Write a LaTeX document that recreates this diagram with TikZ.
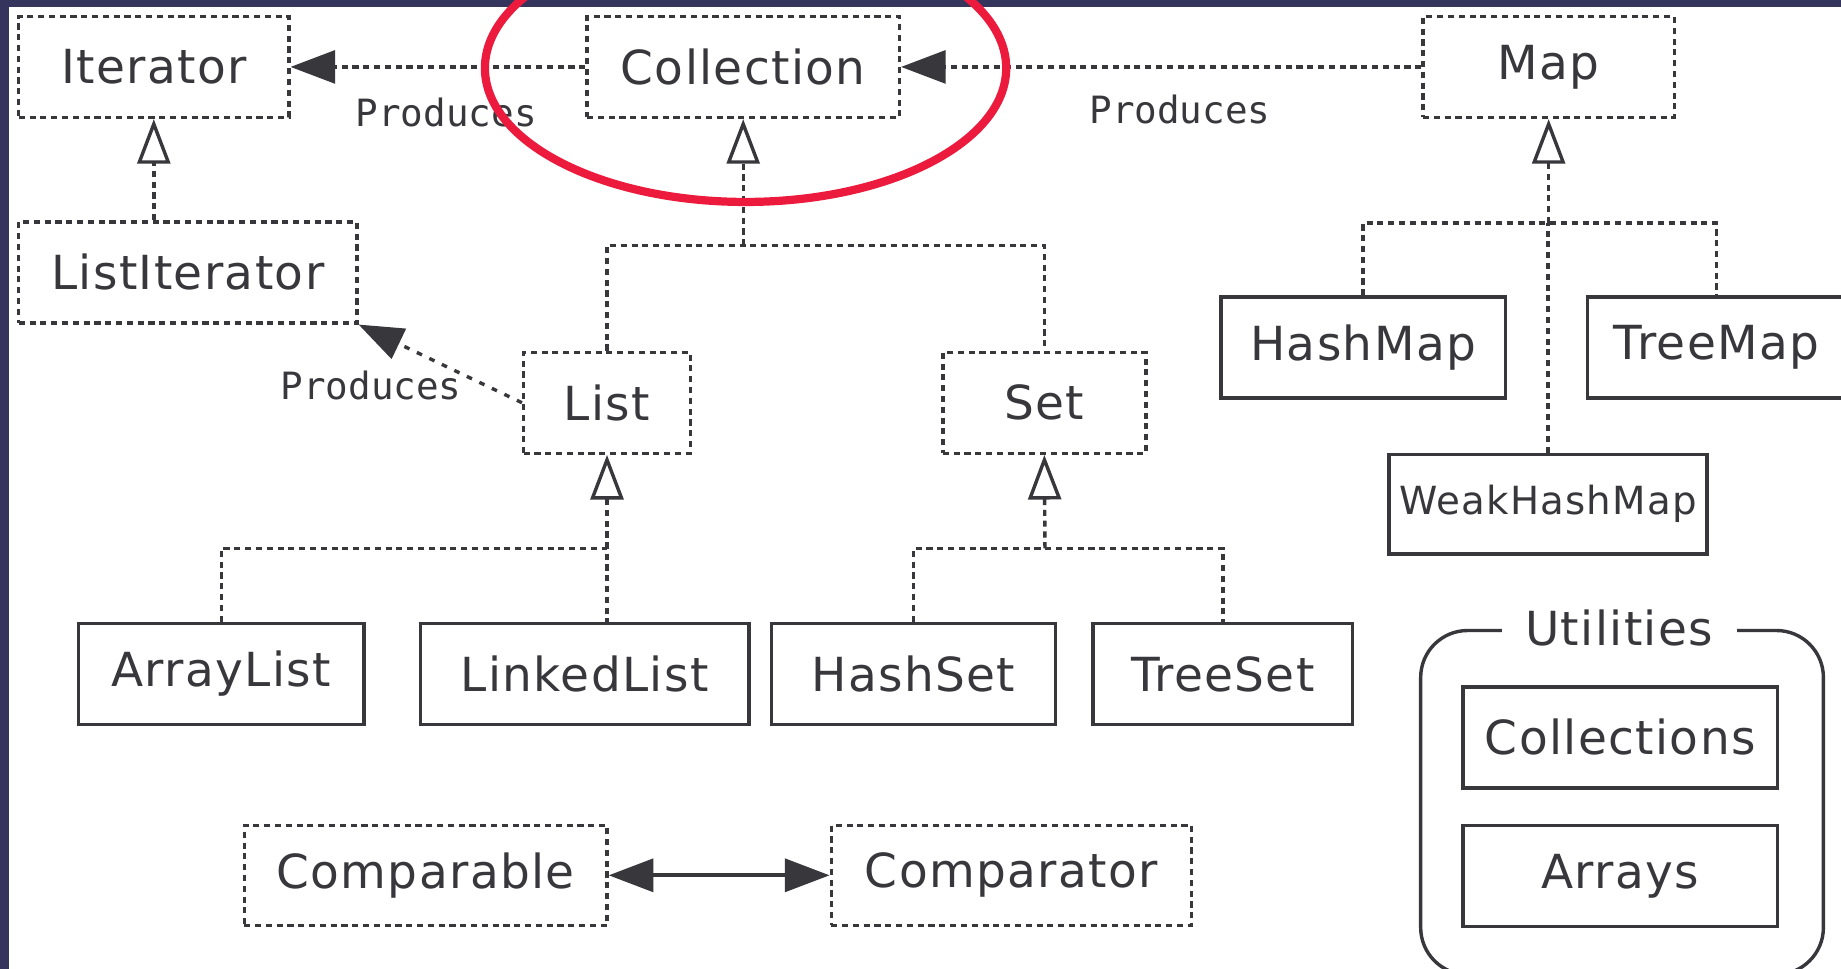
\documentclass[tikz,border=0pt]{standalone}
\usepackage{fontspec}
\setmainfont{DejaVu Sans}[LetterSpace=3]
\newfontfamily\prodfont{DejaVu Sans Mono}
\usetikzlibrary{arrows.meta}
\definecolor{ink}{RGB}{55,55,60}
\definecolor{navy}{RGB}{53,52,92}
\definecolor{circ}{RGB}{236,27,61}
\begin{document}
\begin{tikzpicture}[x=0.5pt,y=-0.5pt,
  every node/.style={text=ink, font=\fontsize{20}{24}\selectfont},
  box/.style={draw=ink, line width=1.45pt, inner sep=0pt, minimum height=43pt, fill=white},
  dbox/.style={box, dash pattern=on 2.6pt off 2pt},
  con/.style={draw=ink, line width=1.45pt, dash pattern=on 2.6pt off 2pt},
  prod/.style={con, -{Triangle[length=19pt,width=14pt]}},
  inh/.style={con, -{Triangle[open,length=19pt,width=14pt,fill=white]}},
  lbl/.style={font=\prodfont\fontsize{16}{18}\selectfont, inner sep=0pt},
]
\useasboundingbox (0,0) rectangle (1568,825);
\clip (0,0) rectangle (1568,825);
\fill[white] (0,0) rectangle (1568,825);
\fill[navy] (0,0) rectangle (1568,6);
\fill[navy] (0,0) rectangle (8,825);

% interfaces
\node[dbox, minimum width=115pt] (iter) at (131,57) {Iterator};
\node[dbox, minimum width=133pt] (coll) at (633,57) {Collection};
\node[dbox, minimum width=107pt] (map) at (1319,57) {Map};
\node[dbox, minimum width=144pt] (listit) at (160,232) {ListIterator};
\node[dbox, minimum width=71pt] (list) at (517,343) {List};
\node[dbox, minimum width=86.5pt] (set) at (889.5,343) {Set};

% map implementations
\node[box, minimum width=121pt] (hashmap) at (1161,296) {HashMap};
\node[box, minimum width=110pt] (treemap) at (1462,296) {TreeMap};
\node[box, minimum width=135.5pt, minimum height=42.5pt, font=\fontsize{16.5}{20}\selectfont] (weak) at (1318.5,429.5) {WeakHashMap};

% collection implementations
\node[box, minimum width=121.5pt] (arraylist) at (188.5,574) {ArrayList};
\node[box, minimum width=140pt] (linkedlist) at (498,574) {LinkedList};
\node[box, minimum width=121pt] (hashset) at (778,574) {HashSet};
\node[box, minimum width=110.5pt] (treeset) at (1041.5,574) {TreeSet};

% comparison
\node[dbox, minimum width=154.5pt, minimum height=42.5pt] (comparable) at (362.5,745.5) {Comparable};
\node[dbox, minimum width=153.5pt, minimum height=42.5pt] (comparator) at (861.5,745.5) {Comparator};

% utilities
\draw[ink, line width=1.45pt, rounded corners=20pt] (1210,537) rectangle (1553,830);
\node[fill=white, inner xsep=10pt, inner ysep=2pt] (util) at (1379,535) {Utilities};
\node[box, minimum width=134pt] (collections) at (1380,628) {Collections};
\node[box, minimum width=134pt] (arrays) at (1380,746) {Arrays};

% produces
\draw[prod] (coll.west) -- (iter.east);
\draw[prod] (map.west) -- (coll.east);
\draw[prod, dash pattern=on 2.4pt off 3.5pt] (list.west) -- (listit.south east);
\node[lbl] (p1) at (380,96) {Produces};
\node[lbl] (p2) at (1005,93) {Produces};
\node[lbl] (p3) at (316,328) {Produces};

% inheritance
\draw[inh] (listit.north -| iter.south) -- (iter.south);

\coordinate (cj) at (633,209);
\draw[con] (list.north) |- (cj) -| (set.north);
\draw[inh] (cj) -- (coll.south);

\coordinate (mj) at (1319,190);
\draw[con] (hashmap.north) |- (mj) -| (treemap.north);
\draw[con] (weak.north) -- (weak.north |- mj);
\draw[inh] (mj) -- (map.south);

\coordinate (lj) at (517,467);
\draw[con] (arraylist.north) |- (lj) -- (lj |- linkedlist.north);
\draw[inh] (lj) -- (list.south);

\coordinate (sj) at (890,467);
\draw[con] (hashset.north) |- (sj) -| (treeset.north);
\draw[inh] (sj) -- (set.south);

\draw[ink, line width=1.6pt, {Triangle[length=19pt,width=14pt]}-{Triangle[length=19pt,width=14pt]}] (comparable.east) -- (comparator.west);

% highlight
\draw[circ, line width=3.5pt] (635,58) ellipse [x radius=111pt, y radius=57pt];
\end{tikzpicture}
\end{document}
